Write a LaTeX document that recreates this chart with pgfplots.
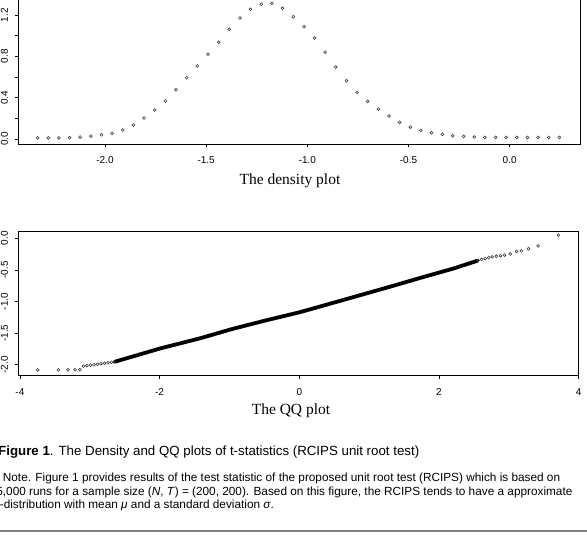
\documentclass[border=0pt]{standalone}
\usepackage{pgfplots}
\pgfplotsset{compat=1.18}
\usepackage{fontspec}
\setmainfont{Liberation Serif}
\setsansfont{Liberation Sans}
\newfontfamily\arial{Liberation Sans}
\newfontfamily\tnr{Liberation Serif}

\pgfplotstableread{
x y
-2.333 0.012
-2.280 0.012
-2.228 0.012
-2.175 0.013
-2.123 0.019
-2.070 0.029
-2.017 0.041
-1.965 0.055
-1.912 0.087
-1.859 0.136
-1.807 0.203
-1.754 0.281
-1.701 0.368
-1.649 0.477
-1.596 0.593
-1.544 0.707
-1.491 0.820
-1.438 0.936
-1.386 1.062
-1.333 1.171
-1.281 1.255
-1.228 1.304
-1.175 1.313
-1.123 1.265
-1.070 1.184
-1.017 1.087
-0.965 0.978
-0.912 0.842
-0.860 0.697
-0.807 0.564
-0.754 0.452
-0.702 0.365
-0.649 0.290
-0.597 0.223
-0.544 0.162
-0.491 0.116
-0.439 0.084
-0.386 0.061
-0.333 0.045
-0.281 0.032
-0.228 0.026
-0.175 0.019
-0.123 0.016
-0.070 0.016
-0.018 0.016
0.035 0.016
0.088 0.016
0.140 0.016
0.193 0.016
0.245 0.016
}\densitydata

\pgfplotstableread{
x y
-2.64 -1.950
-1.99 -1.740
-1.42 -1.580
-0.95 -1.430
-0.47 -1.295
0.00 -1.170
0.34 -1.065
0.82 -0.915
1.30 -0.765
1.75 -0.620
2.20 -0.480
2.55 -0.355
}\qqband

\pgfplotstableread{
x y
-3.745 -2.080
-3.450 -2.080
-3.310 -2.077
-3.210 -2.077
-3.140 -2.075
-3.090 -2.020
-3.040 -2.012
-2.990 -2.005
-2.940 -1.997
-2.890 -1.990
-2.840 -1.982
-2.790 -1.975
-2.740 -1.967
-2.690 -1.960
-2.650 -1.953
2.560 -0.350
2.610 -0.335
2.660 -0.320
2.710 -0.305
2.760 -0.295
2.820 -0.285
2.880 -0.275
2.940 -0.265
3.020 -0.250
3.110 -0.210
3.180 -0.200
3.280 -0.165
3.420 -0.120
3.710 0.050
}\qqtails

\pgfplotsset{
  rstyle/.style={
    scale only axis,
    axis line style={line width=0.8pt, black},
    tick align=outside,
    xtick pos=left, ytick pos=left,
    major tick length=3.5pt,
    every tick/.style={black, line width=0.8pt},
    tick label style={font=\arial\fontsize{10}{12}\selectfont},
    xticklabel style={anchor=center, yshift=-13pt},
    yticklabel style={xshift=-10.3pt, rotate=90, anchor=center},
    xlabel style={font=\tnr\fontsize{15.5}{18}\selectfont, anchor=base},
  },
}

\begin{document}
\begin{tikzpicture}
\useasboundingbox (0pt,0pt) rectangle (587pt,546pt);
\clip (0pt,0pt) rectangle (587pt,546pt);

\begin{axis}[rstyle,
  at={(18.3pt,402pt)}, anchor=south west,
  width=562.4pt, height=146.2pt,
  xmin=-2.4285, xmax=0.3509, ymin=-0.048, ymax=1.367,
  xtick={-2,-1.5,-1,-0.5,0}, xticklabels={-2.0,-1.5,-1.0,-0.5,0.0},
  ytick={0,0.2,0.4,0.6,0.8,1.0,1.2}, yticklabels={0.0,,0.4,,0.8,,1.2},
  xlabel={The density plot},
  xlabel style={at={(axis description cs:0.483,0)}, yshift=-40.3pt},
]
\addplot[only marks, mark=o, mark size=1.45pt, black!75, mark options={line width=0.6pt}] table {\densitydata};
\end{axis}

\begin{axis}[rstyle,
  at={(18.3pt,170.3pt)}, anchor=south west,
  width=560.4pt, height=144.7pt,
  xmin=-4.023, xmax=4.0, ymin=-2.171, ymax=0.115,
  xtick={-4,-2,0,2,4}, xticklabels={-4,-2,0,2,4},
  ytick={-2,-1.5,-1,-0.5,0}, yticklabels={-2.0,-1.5,-1.0,-0.5,0.0},
  xlabel={The QQ plot},
  xlabel style={at={(axis description cs:0.4866,0)}, yshift=-38.6pt},
]
\addplot[black, line width=3.8pt, line cap=round, line join=round] table {\qqband};
\addplot[only marks, mark=o, mark size=1.45pt, black!75, mark options={line width=0.6pt}] table {\qqtails};
\end{axis}

\node[anchor=base west, inner sep=0pt, font=\arial\fontsize{13.3}{16}\selectfont] at (-2pt,90.3pt)
  {\textbf{Figure 1}. The Density and QQ plots of t-statistics (RCIPS unit root test)};
\node[anchor=base west, inner sep=0pt, font=\arial\fontsize{11.8}{14}\selectfont] at (2.7pt,64.3pt)
  {Note. Figure 1 provides results of the test statistic of the proposed unit root test (RCIPS) which is based on};
\node[anchor=base west, inner sep=0pt, font=\arial\fontsize{11.8}{14}\selectfont] at (-3.8pt,50.3pt)
  {5,000 runs for a sample size (\textit{N}, \textit{T}) = (200, 200). Based on this figure, the RCIPS tends to have a approximate};
\node[anchor=base west, inner sep=0pt, font=\arial\fontsize{11.8}{14}\selectfont] at (-3.6pt,37pt)
  {t-distribution with mean \textit{μ} and a standard deviation \textit{σ}.};
\draw[line width=1.3pt, black!50] (0pt,15pt) -- (587pt,15pt);
\end{tikzpicture}
\end{document}
